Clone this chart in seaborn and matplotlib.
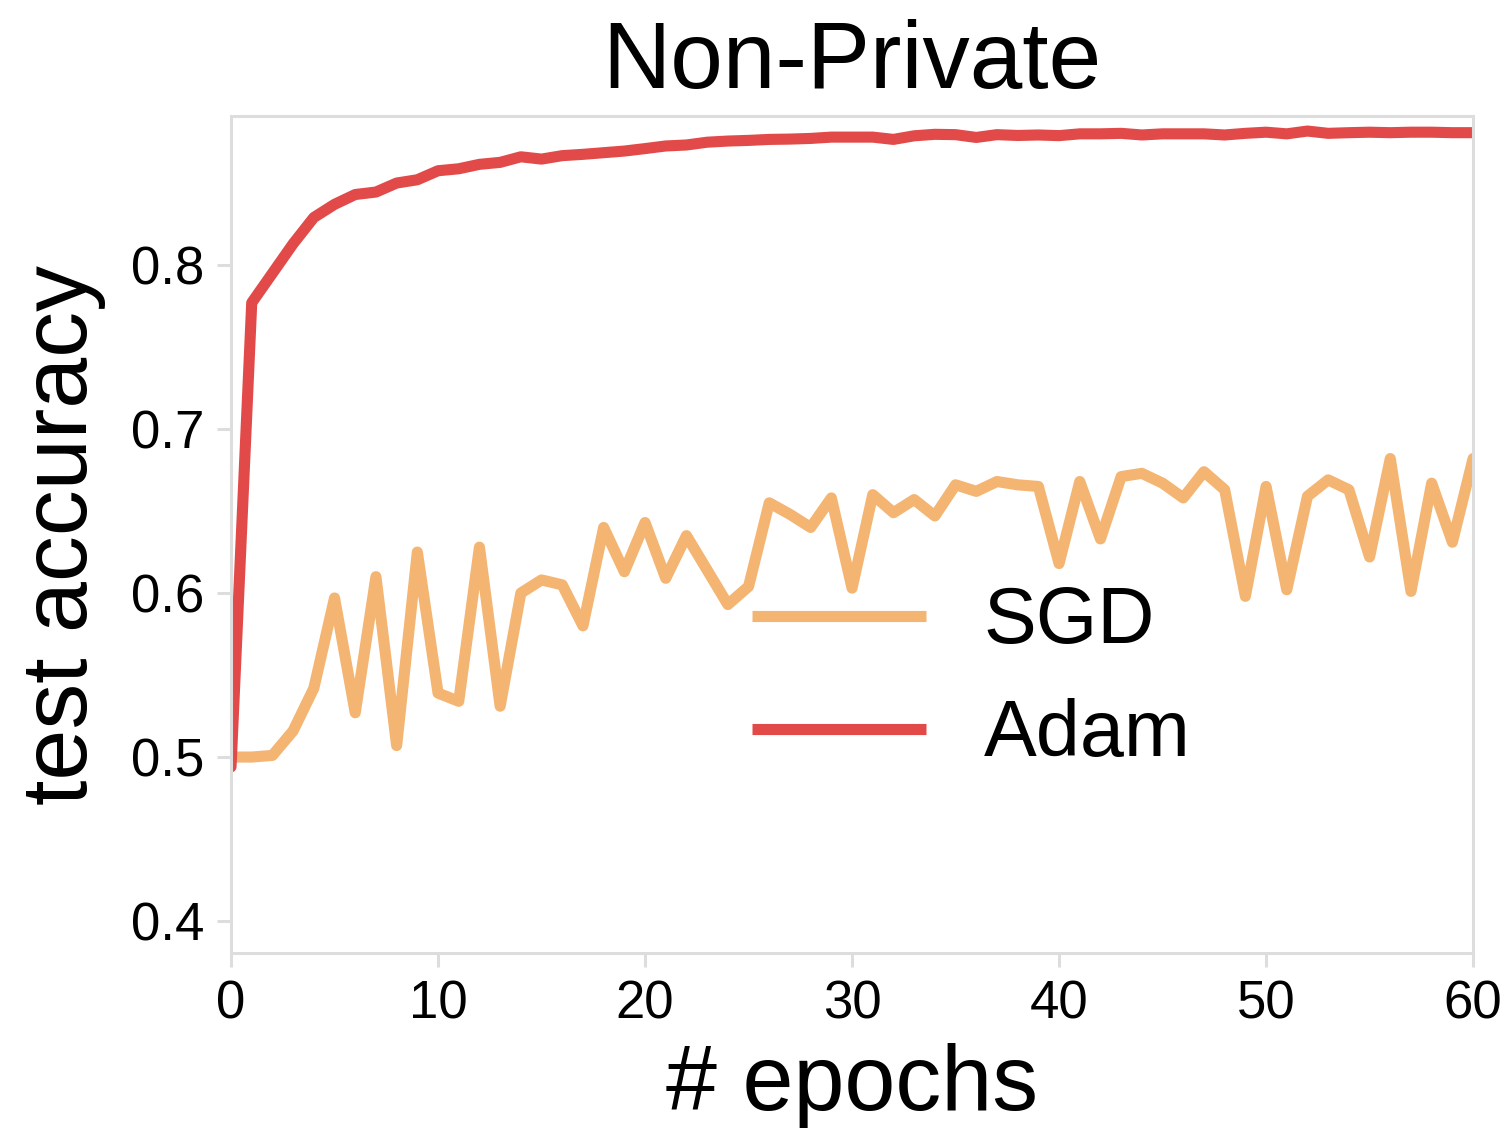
import numpy as np
import pandas as pd
import matplotlib
matplotlib.use("Agg")
import matplotlib.pyplot as plt
import seaborn as sns

epochs = list(range(61))
sgd = [0.500, 0.500, 0.501, 0.516, 0.542, 0.597, 0.527, 0.610, 0.507, 0.625,
       0.539, 0.534, 0.628, 0.531, 0.600, 0.608, 0.605, 0.580, 0.640, 0.613,
       0.643, 0.609, 0.635, 0.614, 0.593, 0.604, 0.655, 0.648, 0.640, 0.658,
       0.603, 0.660, 0.649, 0.657, 0.647, 0.666, 0.662, 0.668, 0.666, 0.665,
       0.618, 0.668, 0.633, 0.671, 0.673, 0.667, 0.658, 0.674, 0.663, 0.598,
       0.665, 0.602, 0.659, 0.669, 0.663, 0.622, 0.682, 0.601, 0.667, 0.631,
       0.682]
adam = [0.494, 0.777, 0.795, 0.813, 0.829, 0.837, 0.843, 0.8445, 0.850, 0.852,
        0.8575, 0.8587, 0.8614, 0.8626, 0.866, 0.8646, 0.8667, 0.8675, 0.8685, 0.8695,
        0.871, 0.8726, 0.8732, 0.8749, 0.8756, 0.876, 0.8766, 0.8768, 0.8772, 0.878,
        0.878, 0.878, 0.8766, 0.8788, 0.8797, 0.8795, 0.8778, 0.8795, 0.879, 0.8793,
        0.8789, 0.880, 0.880, 0.8803, 0.8793, 0.880, 0.880, 0.880, 0.8793, 0.8803,
        0.881, 0.880, 0.8817, 0.8803, 0.8807, 0.881, 0.8807, 0.881, 0.881, 0.8807,
        0.8807]
series_names = ["SGD", "Adam"]
colors = {"SGD": "#f4b472", "Adam": "#e24a4a"}
x_ticks = [0, 10, 20, 30, 40, 50, 60]
y_ticks = [0.4, 0.5, 0.6, 0.7, 0.8]

df = pd.DataFrame({
    "epoch": epochs * 2,
    "acc": sgd + adam,
    "opt": ["SGD"] * len(sgd) + ["Adam"] * len(adam),
})

sns.set_style("white")
plt.rcParams["font.family"] = ["Liberation Sans", "DejaVu Sans"]
plt.rcParams["text.color"] = "black"
plt.rcParams["axes.labelcolor"] = "black"

fig = plt.figure(figsize=(15.11, 11.28), dpi=100)
ax = fig.add_axes([0.1529, 0.1551, 0.9749 - 0.1529, 0.8972 - 0.1551])

sns.lineplot(data=df, x="epoch", y="acc", hue="opt", hue_order=series_names,
             palette=colors, linewidth=8, ax=ax)

ax.set_xlim(0, 60)
ax.set_ylim(0.3805, 0.8909)
ax.set_xticks(x_ticks)
ax.set_yticks(y_ticks)
ax.set_yticklabels([f"{v:.1f}" for v in y_ticks])

for sp in ax.spines.values():
    sp.set_color("#dddddd")
    sp.set_linewidth(2.2)
ax.tick_params(axis="both", which="major", length=10, width=2.2, color="#dddddd",
               labelcolor="black", labelsize=38, pad=9, direction="out",
               bottom=True, left=True)

ax.set_xlabel("# epochs", fontsize=66, labelpad=10, color="black")
ax.set_ylabel("test accuracy", fontsize=66, labelpad=18, color="black")
ax.set_title("Non-Private", fontsize=68, pad=20, color="black")

leg = ax.legend(loc="center", bbox_to_anchor=(0.596, 0.327), frameon=False,
                fontsize=57, handlelength=2.2, handletextpad=0.72, labelspacing=0.48)
for line in leg.get_lines():
    line.set_linewidth(8)
    line.set_solid_capstyle("butt")
for t in leg.get_texts():
    t.set_color("black")

fig.savefig("out.png", dpi=100)
